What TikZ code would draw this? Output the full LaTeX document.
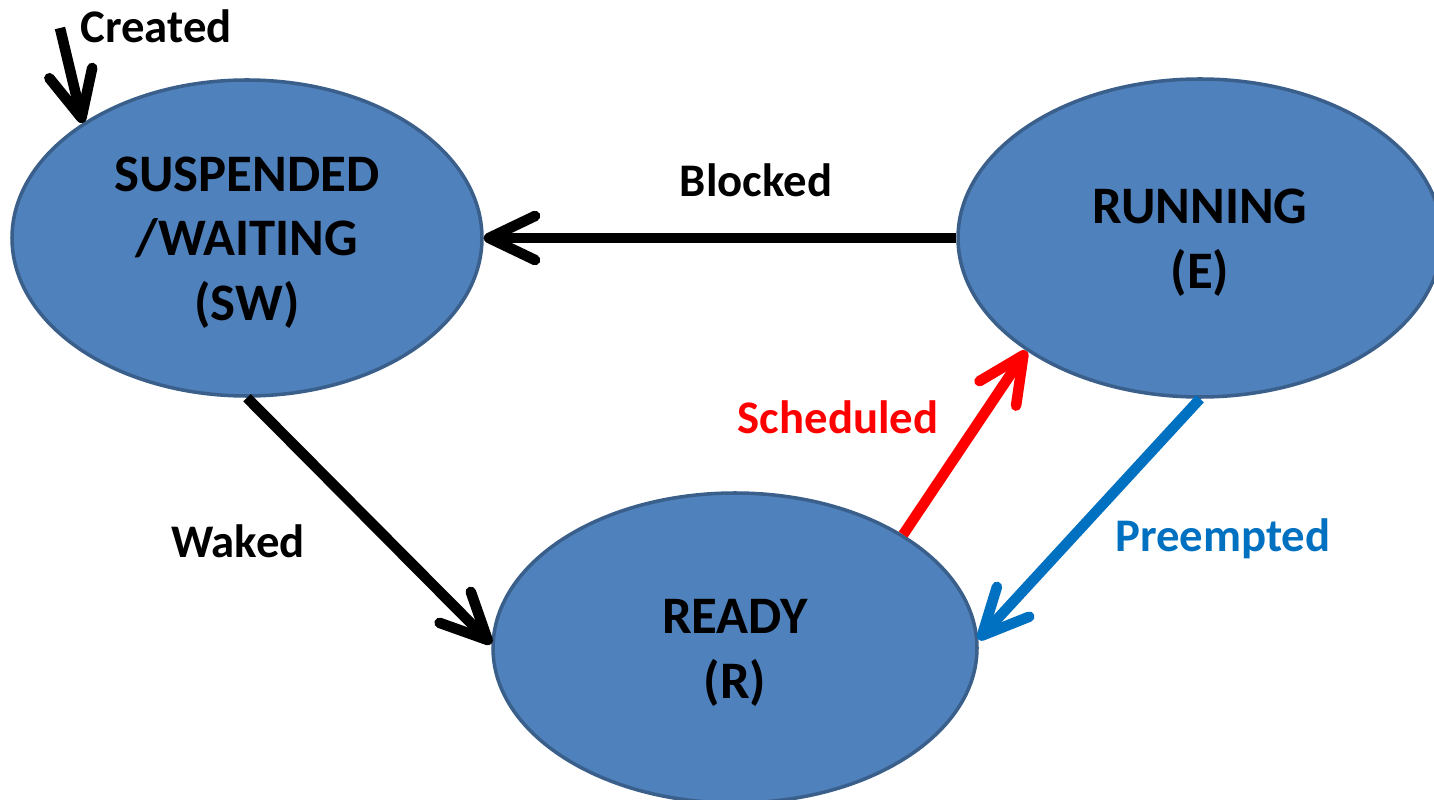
\documentclass[tikz,border=0pt]{standalone}
\usepackage{fontspec}
\setmainfont{Carlito}
\usetikzlibrary{shapes.geometric,arrows.meta}
\definecolor{stateblue}{HTML}{4F81BD}
\definecolor{stateedge}{HTML}{3A5F8B}
\definecolor{preemptblue}{HTML}{0070C0}
\newcommand{\topstrut}{\rule{0pt}{12.5pt}}
\begin{document}
\begin{tikzpicture}[
  state/.style={ellipse, fill=stateblue, draw=stateedge, line width=1pt, inner sep=0pt, align=center,
    font=\fontsize{15}{18.3}\selectfont\bfseries},
  trans/.style={line width=3pt, -{Straight Barb[length=4.6mm, width=4.4mm, round]}},
  lbl/.style={anchor=base, font=\fontsize{13.3}{16}\selectfont\bfseries}]
\useasboundingbox (0,0) rectangle (14.34,7.99);
% the three task states
\node[state, minimum width=4.70cm, minimum height=3.16cm] (sw) at (2.47,5.61) {\topstrut SUSPENDED\\/WAITING\\(SW)};
\node[state, minimum width=4.84cm, minimum height=3.18cm] (run) at (12.00,5.61) {\topstrut RUNNING\\(E)};
\node[state, minimum width=4.84cm, minimum height=3.10cm] (ready) at (7.35,1.51) {\topstrut READY\\(R)};
% transitions
\coordinate (new) at (0.60,7.71);
\draw[trans] (new) -- (sw.145.6);
\draw[trans] (run.west) -- (sw.east);
\draw[trans] (sw.south) -- (ready.179);
\draw[trans, red] (ready.34.8) -- (run.213.5);
\draw[trans, preemptblue] (run.south) -- (ready.2);
% labels
\node[lbl] (created) at (1.56,7.56) {Created};
\node[lbl] (blocked) at (7.56,6.02) {Blocked};
\node[lbl, red] (scheduled) at (8.38,3.66) {Scheduled};
\node[lbl] (waked) at (2.38,2.42) {Waked};
\node[lbl, preemptblue] (preempted) at (12.23,2.47) {Preempted};
\end{tikzpicture}
\end{document}
